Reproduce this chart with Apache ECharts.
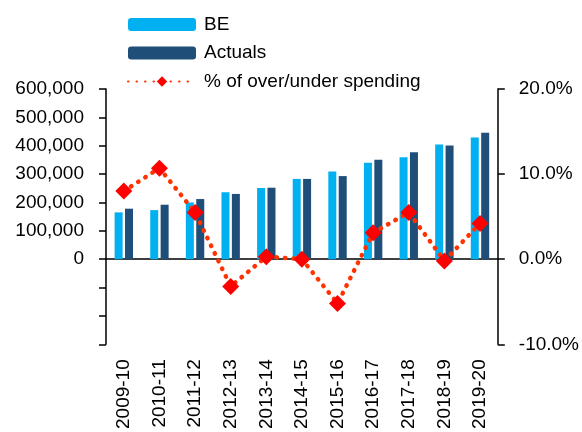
<!DOCTYPE html>
<html>
<head>
<meta charset="utf-8">
<script src="https://cdn.jsdelivr.net/npm/echarts@6/dist/echarts.min.js"></script>
<style>
  html, body { margin: 0; padding: 0; background: #fff; }
  #chart { width: 582px; height: 432px; }
</style>
</head>
<body>
<div id="chart"></div>
<script>
// years on the x axis
var years = ['2009-10','2010-11','2011-12','2012-13','2013-14','2014-15','2015-16','2016-17','2017-18','2018-19','2019-20'];
// budget estimates and actual spending
var beValues = [165000, 173000, 200000, 236000, 251000, 283000, 309000, 340000, 359000, 404000, 429000];
var actualValues = [178000, 192000, 212000, 230000, 252000, 283000, 293000, 351000, 377000, 401000, 446000];
// % over/under spending (right axis)
var pctValues = [8.0, 10.7, 5.5, -3.2, 0.3, 0.0, -5.2, 3.1, 5.5, -0.2, 4.2];

var font = 'Liberation Sans, Arial, sans-serif';
var chart = echarts.init(document.getElementById('chart'), null, { renderer: 'canvas' });

var option = {
  animation: false,
  textStyle: { fontFamily: font, color: '#000' },
  legend: {
    orient: 'vertical',
    left: 127,
    top: 15,
    padding: 0,
    itemWidth: 68,
    itemHeight: 13,
    itemGap: 9.5,
    textStyle: { fontSize: 19, color: '#000', fontFamily: font, padding: [0, 0, 0, 3] },
    data: ['BE', 'Actuals', '% of over/under spending']
  },
  grid: { left: 106, right: 80, top: 89, bottom: 83, containLabel: false },
  xAxis: [
    {
      type: 'category',
      data: years,
      position: 'bottom',
      axisLine: { show: false, onZero: false },
      axisTick: { show: false },
      axisLabel: { rotate: 90, fontSize: 19, color: '#000', fontFamily: font, margin: 15, interval: 0 }
    },
    {
      type: 'category',
      data: years,
      position: 'bottom',
      axisLine: { show: true, onZero: true, onZeroAxisIndex: 0, lineStyle: { color: '#000', width: 1.5 } },
      axisTick: { show: false },
      axisLabel: { show: false }
    }
  ],
  yAxis: [
    {
      type: 'value',
      min: -300000,
      max: 600000,
      interval: 100000,
      splitLine: { show: false },
      axisLine: { show: true, lineStyle: { color: '#000', width: 1.5 } },
      axisTick: { show: true, length: 7, lineStyle: { color: '#000', width: 1.5 } },
      axisLabel: {
        fontSize: 19, color: '#000', fontFamily: font, margin: 22,
        formatter: function (v) { return v < 0 ? '' : v.toLocaleString('en-US'); }
      }
    },
    {
      type: 'value',
      min: -10,
      max: 20,
      interval: 10,
      position: 'right',
      splitLine: { show: false },
      axisLine: { show: true, lineStyle: { color: '#000', width: 1.5 } },
      axisTick: { show: true, length: 7, lineStyle: { color: '#000', width: 1.5 } },
      axisLabel: {
        fontSize: 19, color: '#000', fontFamily: font, margin: 21,
        formatter: function (v) { return v.toFixed(1) + '%'; }
      }
    }
  ],
  series: [
    {
      name: 'BE',
      type: 'bar',
      data: beValues,
      barWidth: 8,
      barGap: '30%',
      itemStyle: { color: '#00B0F0' }
    },
    {
      name: 'Actuals',
      type: 'bar',
      data: actualValues,
      barWidth: 8,
      barGap: '30%',
      itemStyle: { color: '#1F4E79' }
    },
    {
      name: '% of over/under spending',
      type: 'line',
      yAxisIndex: 1,
      data: pctValues,
      symbol: 'diamond',
      symbolSize: 17,
      itemStyle: { color: '#FF0000' },
      lineStyle: { color: '#FF3300', width: 4.5, type: [0.5, 8], cap: 'round' },
      z: 5
    }
  ]
};

chart.setOption(option);
</script>
</body>
</html>
